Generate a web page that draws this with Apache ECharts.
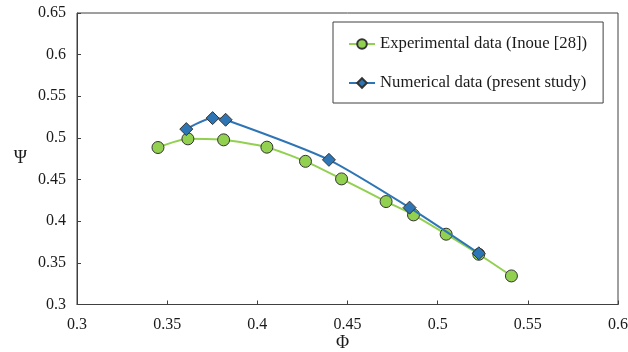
<!DOCTYPE html>
<html>
<head>
<meta charset="utf-8">
<script src="https://cdn.jsdelivr.net/npm/echarts@6/dist/echarts.min.js"></script>
<style>html,body{margin:0;padding:0;background:#fff}#c{width:628px;height:352px}</style>
</head>
<body>
<div id="c"></div>
<script>
const expPhi = [0.3449, 0.3615, 0.3813, 0.4053, 0.4267, 0.4467, 0.4714, 0.4866, 0.5047, 0.5228, 0.5409];
const expPsi = [0.4885, 0.4989, 0.4977, 0.4889, 0.4719, 0.4508, 0.4236, 0.4076, 0.3844, 0.3603, 0.3343];
const numPhi = [0.3606, 0.3752, 0.3824, 0.4397, 0.4844, 0.5228];
const numPsi = [0.5106, 0.5238, 0.5218, 0.4737, 0.4163, 0.3615];
const seriesNames = ['Experimental data (Inoue [28])', 'Numerical data (present study)'];
const xName = 'Φ', yName = 'Ψ';

const font = '"Liberation Serif", "Times New Roman", serif';
const axisCol = '#404040';
const chart = echarts.init(document.getElementById('c'));
chart.setOption({
  animation: false,
  textStyle: { fontFamily: font },
  grid: { left: 77, right: 10, top: 13, bottom: 47.5, show: true, borderColor: axisCol, borderWidth: 1,
          containLabel: false, outerBoundsMode: 'none' },
  legend: {
    orient: 'vertical', left: 333, top: 22,
    padding: [12, 16, 10, 15], itemGap: 19,
    itemWidth: 26, itemHeight: 12,
    borderColor: axisCol, borderWidth: 1, backgroundColor: '#fff',
    textStyle: { fontFamily: font, fontSize: 16.7, color: '#1a1a1a', lineHeight: 20 },
    data: seriesNames
  },
  xAxis: {
    type: 'value', min: 0.3, max: 0.6, interval: 0.05,
    name: xName, nameLocation: 'middle', nameGap: 30, nameMoveOverlap: false,
    nameTextStyle: { fontFamily: font, fontSize: 18, color: '#1a1a1a', padding: [0, 10, 0, 0] },
    axisLine: { lineStyle: { color: axisCol } },
    axisTick: { inside: true, length: 4, lineStyle: { color: axisCol } },
    axisLabel: { fontFamily: font, fontSize: 16, color: '#1a1a1a', margin: 12 },
    splitLine: { show: false }
  },
  yAxis: {
    type: 'value', min: 0.3, max: 0.65, interval: 0.05,
    name: yName, nameLocation: 'middle', nameGap: 50, nameRotate: 0, nameMoveOverlap: false,
    nameTextStyle: { fontFamily: font, fontSize: 18, color: '#1a1a1a' },
    axisLine: { show: true, lineStyle: { color: axisCol } },
    axisTick: { show: true, inside: true, length: 4, lineStyle: { color: axisCol } },
    axisLabel: { fontFamily: font, fontSize: 16, color: '#1a1a1a', margin: 11 },
    splitLine: { show: false }
  },
  series: [
    {
      name: seriesNames[0], type: 'line', smooth: 0.2,
      data: expPhi.map((x, i) => [x, expPsi[i]]),
      symbol: 'circle', symbolSize: 12,
      lineStyle: { color: '#92D050', width: 2 },
      itemStyle: { color: '#92D050', borderColor: '#333', borderWidth: 1 },
      z: 2
    },
    {
      name: seriesNames[1], type: 'line', smooth: 0.2,
      data: numPhi.map((x, i) => [x, numPsi[i]]),
      symbol: 'diamond', symbolSize: 13,
      lineStyle: { color: '#2E75B6', width: 2 },
      itemStyle: { color: '#2E75B6', borderColor: '#333', borderWidth: 1 },
      z: 3
    }
  ]
});
</script>
</body>
</html>
